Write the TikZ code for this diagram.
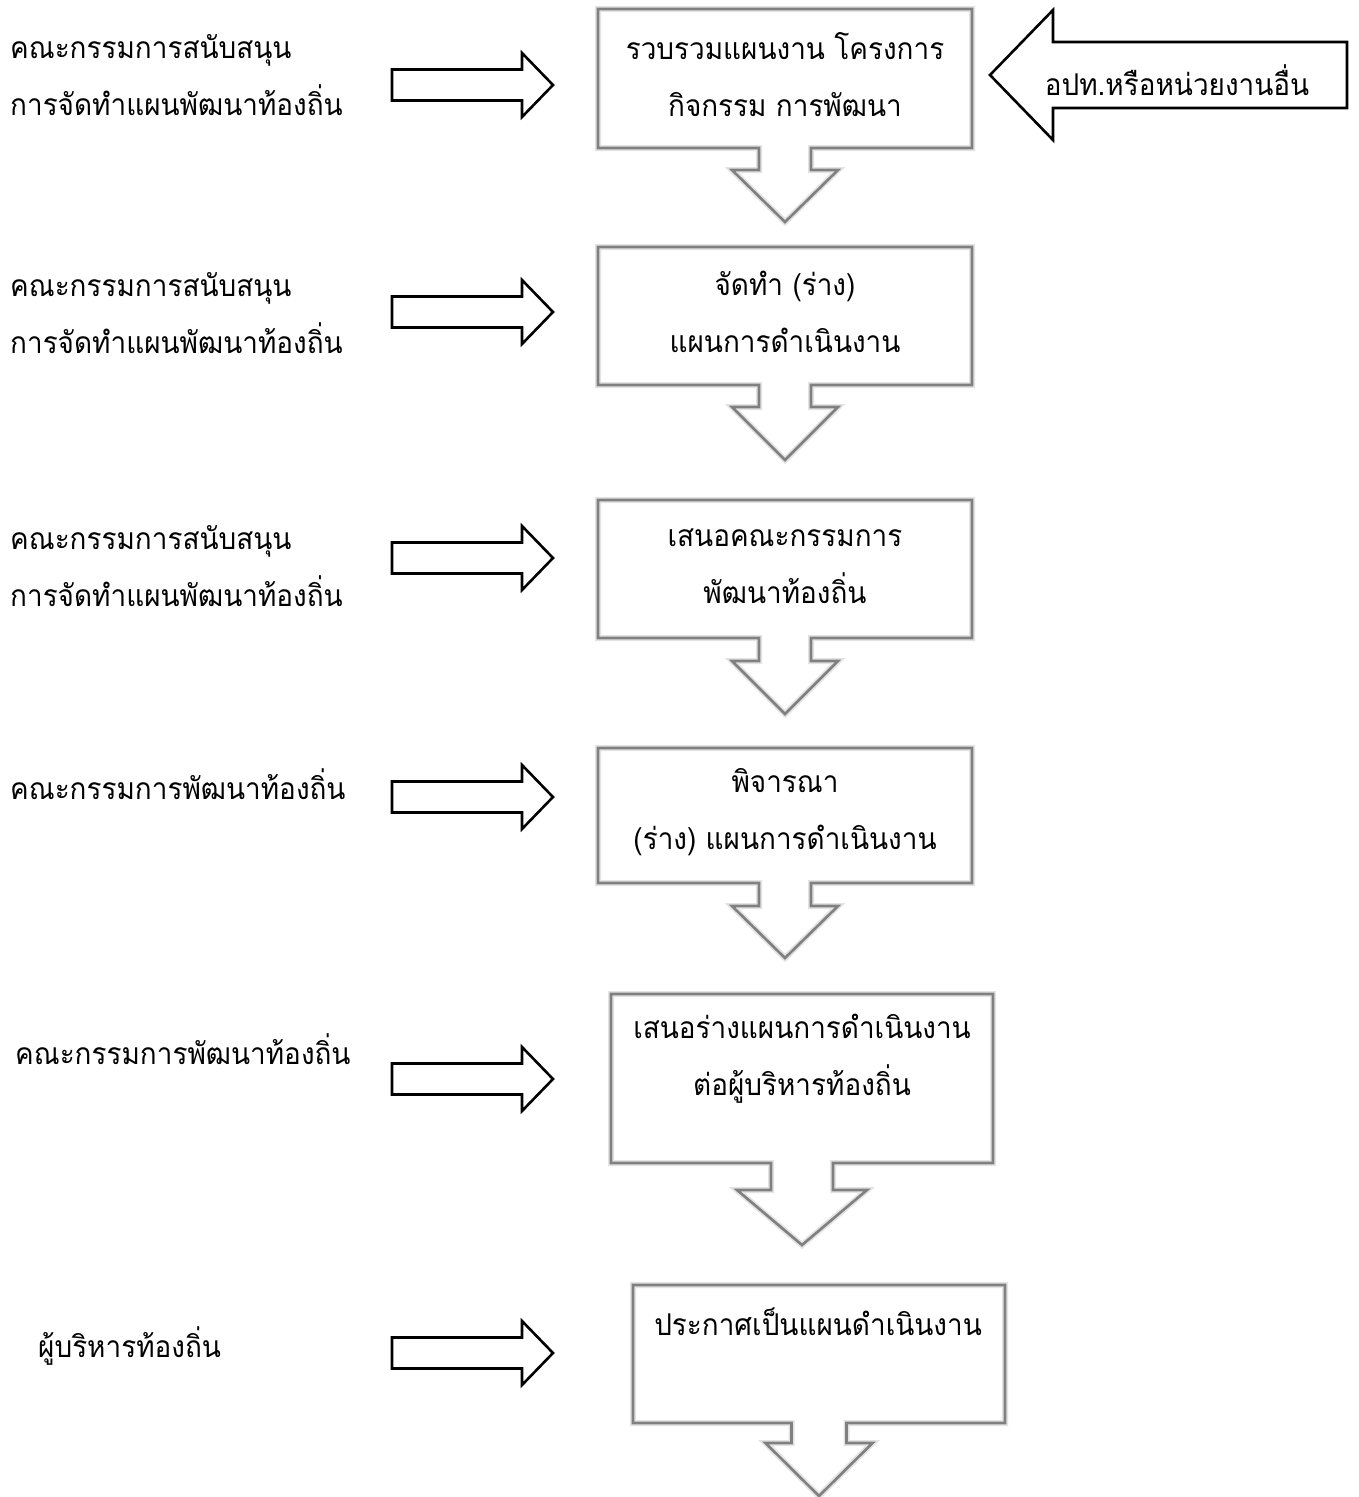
\documentclass[tikz,border=0pt]{standalone}
\usepackage{fontspec}
\newfontfamily\thaifont[Script=Thai,FakeStretch=0.93]{Loma}
\definecolor{boxgray}{HTML}{808080}
\begin{document}
\begin{tikzpicture}[x=1pt,y=-1pt,
  boxline/.style={draw=boxgray,line width=2.6pt,line join=miter,
     preaction={draw=gray!22,line width=6pt}},
  blockarrow/.style={draw=black,line width=2.6pt,fill=white,line join=miter},
  txt/.style={font=\thaifont\fontsize{30}{57}\selectfont,inner sep=0pt,align=center},
  ltxt/.style={font=\thaifont\fontsize{30}{57}\selectfont,inner sep=0pt,align=left,anchor=west},
  rarrow/.pic={\draw[blockarrow] (0,-15.5) -- (130,-15.5) -- (130,-32) -- (161,0) -- (130,32) -- (130,15.5) -- (0,15.5) -- cycle;},
  larrow/.pic={\draw[blockarrow] (0,0) -- (63,-65) -- (63,-33) -- (357,-33) -- (357,33) -- (63,33) -- (63,65) -- cycle;}
]
\useasboundingbox (0,0) rectangle (1358,1497);
\fill[white] (0,0) rectangle (1358,1497);

\newcommand\flowbox[9]{%
 \pgfmathsetmacro\cx{(#2+#4)/2}%
 \node[inner sep=0pt,minimum width={#4-#2},minimum height={#5-#3}] (#1) at (\cx,{(#3+#5)/2}) {};
 \draw[boxline] (#2,#3) -- (#4,#3) -- (#4,#5) -- ({\cx+#6},#5) -- ({\cx+#6},#9) -- ({\cx+#7},#9) -- (\cx,#8) -- ({\cx-#7},#9) -- ({\cx-#6},#9) -- ({\cx-#6},#5) -- (#2,#5) -- cycle;
}

% boxes: name, left, top, right, bottom, stem half, head half, tip, shoulder
\flowbox{b1}{598}{9}{972}{148}{26}{53}{222}{170}
\flowbox{b2}{598}{247}{972}{385}{26}{53}{460}{407}
\flowbox{b3}{598}{500}{972}{638}{26}{53}{714}{661}
\flowbox{b4}{598}{748}{972}{883}{26}{53}{958}{906}
\flowbox{b5}{611}{994}{993}{1163}{31}{65}{1245}{1190}
\flowbox{b6}{633}{1285}{1005}{1423}{27.5}{53.5}{1496}{1443}

% box texts
\node[txt] (t1) at (785,75) {รวบรวมแผนงาน โครงการ\\กิจกรรม การพัฒนา};
\node[txt] (t2) at (785,312) {จัดทำ (ร่าง)\\แผนการดำเนินงาน};
\node[txt] (t3) at (785,566) {เสนอคณะกรรมการ\\พัฒนาท้องถิ่น};
\node[txt] (t4) at (785,812) {พิจารณา\\(ร่าง) แผนการดำเนินงาน};
\node[txt] (t5) at (802,1059) {เสนอร่างแผนการดำเนินงาน\\ต่อผู้บริหารท้องถิ่น};
\node[txt] (t6) at (818,1322) {ประกาศเป็นแผนดำเนินงาน};

% right block arrows
\pic (ra1) at (392,85) {rarrow};
\pic (ra2) at (392,312) {rarrow};
\pic (ra3) at (392,558) {rarrow};
\pic (ra4) at (392,797) {rarrow};
\pic (ra5) at (392,1079) {rarrow};
\pic (ra6) at (392,1353) {rarrow};

% left block arrow with text
\pic (la) at (990,75) {larrow};
\node[txt] (lat) at (1177,80) {อปท.หรือหน่วยงานอื่น};

% left labels
\node[ltxt] (l1) at (10,75) {คณะกรรมการสนับสนุน\\การจัดทำแผนพัฒนาท้องถิ่น};
\node[ltxt] (l2) at (10,313) {คณะกรรมการสนับสนุน\\การจัดทำแผนพัฒนาท้องถิ่น};
\node[ltxt] (l3) at (10,566) {คณะกรรมการสนับสนุน\\การจัดทำแผนพัฒนาท้องถิ่น};
\node[ltxt] (l4) at (10,784) {คณะกรรมการพัฒนาท้องถิ่น};
\node[ltxt] (l5) at (15,1049) {คณะกรรมการพัฒนาท้องถิ่น};
\node[ltxt] (l6) at (38,1346) {ผู้บริหารท้องถิ่น};
\end{tikzpicture}
\end{document}
